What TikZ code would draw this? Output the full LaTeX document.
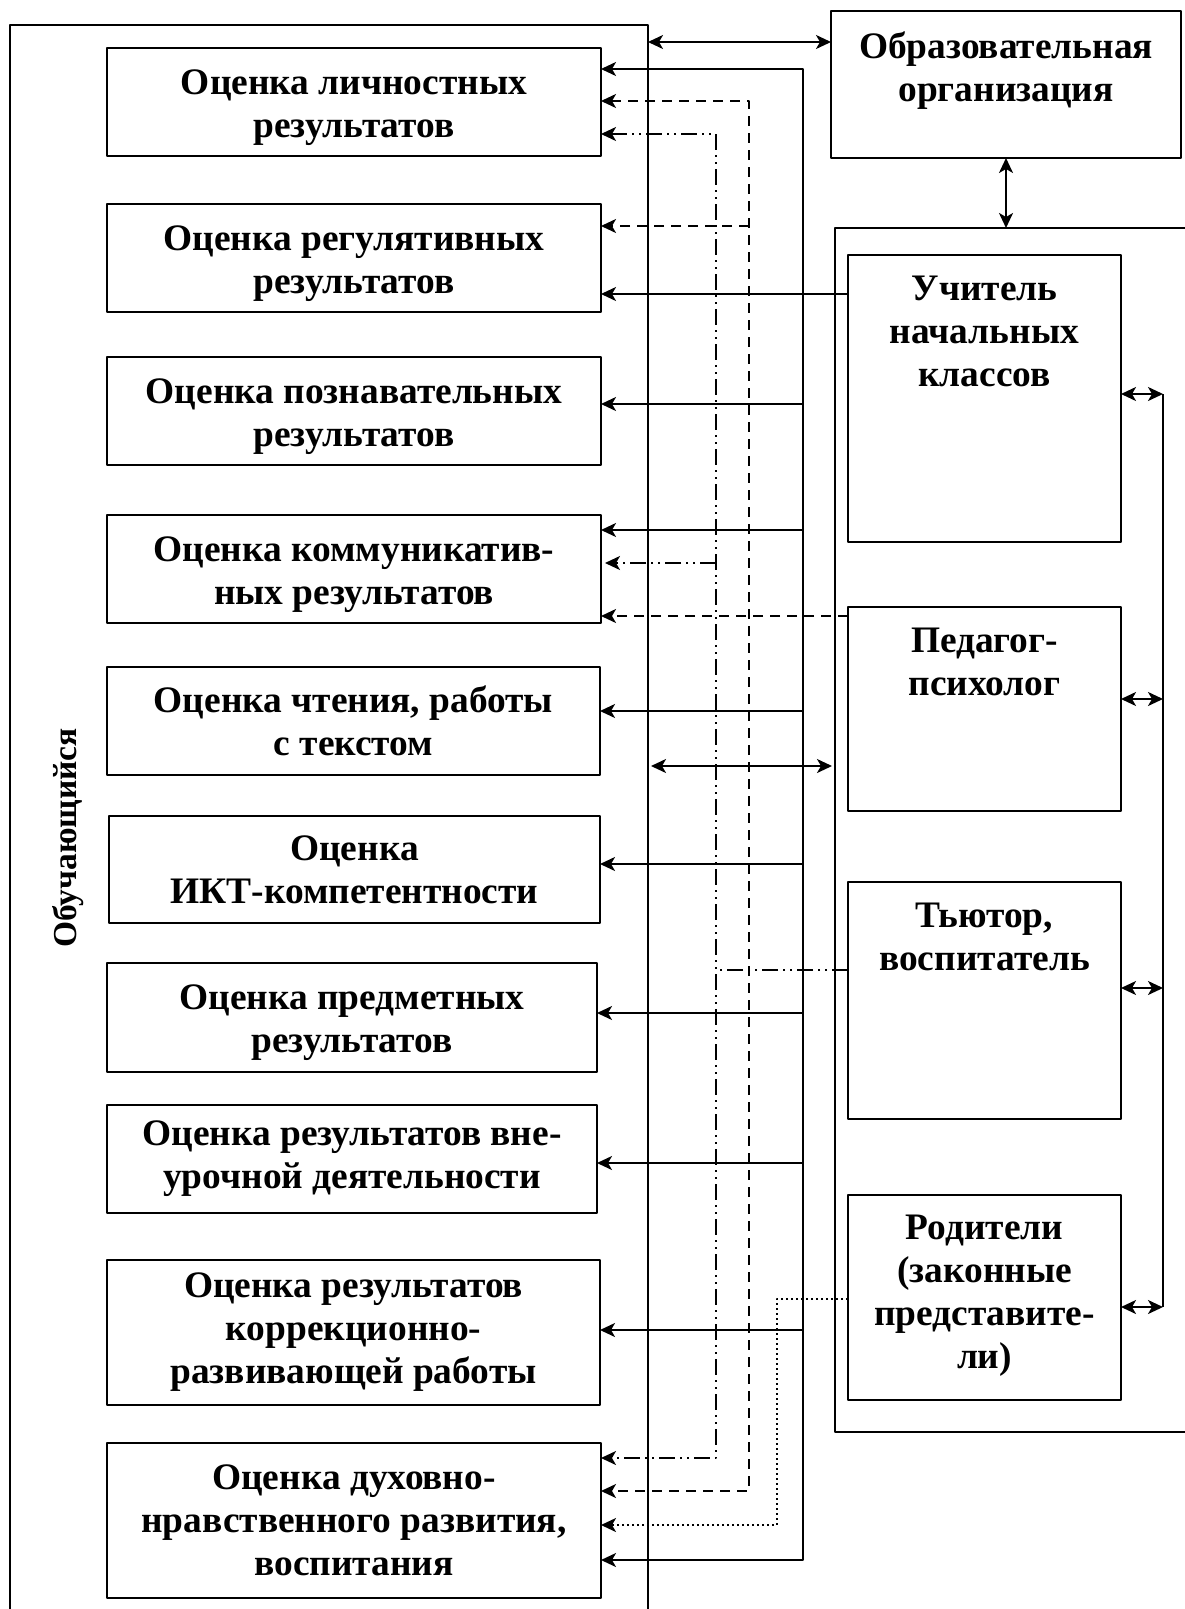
\documentclass[tikz,border=0pt]{standalone}
\usepackage{fontspec}
\setmainfont{Liberation Serif}
\usetikzlibrary{arrows.meta}
\tikzset{t/.style={font=\fontsize{37.4}{43}\selectfont\bfseries}}
\tikzset{box/.style={draw,line width=2pt,inner sep=0pt,outer sep=0pt,align=center,t}}
\tikzset{lbox/.style={box,minimum width=494,minimum height=108}}
\tikzset{two/.style={execute at begin node={\rule{0pt}{79pt}}}}
\tikzset{rbox/.style={box,minimum width=273}}
\tikzset{rt/.style={t,align=center,anchor=north,inner sep=0pt}}
\tikzset{ln/.style={line width=2pt}}
\tikzset{dashln/.style={ln,dash pattern=on 10pt off 7pt}}
\tikzset{ddln/.style={ln,dash pattern=on 16pt off 5pt on 2pt off 5pt on 2pt off 5pt}}
\tikzset{dotln/.style={ln,dash pattern=on 2pt off 3pt}}

\begin{document}
\begin{tikzpicture}[x=1pt,y=-1pt,line join=round,>={Stealth[length=15pt,width=14pt,inset=4pt]}]
  \useasboundingbox (0,0) rectangle (1185,1609);
  % containers
  \node[box,minimum width=638,minimum height=1620,anchor=north west] (learner) at (10,25) {};
  \node[box,minimum width=400,minimum height=1204,anchor=north west] (team) at (835,228) {};
  \node[font=\fontsize{33.5}{40}\selectfont\bfseries,rotate=90] (lname) at (68,838) {Обучающийся};
  % left boxes
  \node[lbox,two] (b1) at (354,102) {Оценка личностных\\результатов};
  \node[lbox,two] (b2) at (354,258) {Оценка регулятивных\\результатов};
  \node[lbox,two] (b3) at (354,411) {Оценка познавательных\\результатов};
  \node[lbox,two] (b4) at (354,569) {Оценка коммуникатив-\\ных результатов};
  \node[lbox,minimum width=493] (b5) at (353.5,721) {Оценка чтения, работы\\с текстом};
  \node[lbox,minimum width=491,minimum height=107] (b6) at (354.5,869.5) {Оценка\\ИКТ-компетентности};
  \node[lbox,two,minimum width=490,minimum height=109] (b7) at (352,1017.5) {Оценка предметных\\результатов};
  \node[lbox,minimum width=490] (b8) at (352,1159) {Оценка результатов вне-\\урочной деятельности};
  \node[lbox,minimum width=493,minimum height=145] (b9) at (353.5,1332.5) {Оценка результатов\\коррекционно-\\развивающей работы};
  \node[lbox,minimum height=155] (b10) at (354,1520.5) {Оценка духовно-\\нравственного развития,\\воспитания};
  % right boxes
  \node[box,minimum width=350,minimum height=147] (org) at (1006,84.5) {};
  \node[rt] (orgT) at ([yshift=-21pt]org.north) {Образовательная\\организация};
  \node[rbox,minimum height=287] (uch) at (984.5,398.5) {};
  \node[rt] (uchT) at ([yshift=-21pt]uch.north) {Учитель\\начальных\\классов};
  \node[rbox,minimum height=204] (ped) at (984.5,709) {};
  \node[rt] (pedT) at ([yshift=-21pt]ped.north) {Педагог-\\психолог};
  \node[rbox,minimum height=237] (tut) at (984.5,1000.5) {};
  \node[rt] (tutT) at ([yshift=-21pt]tut.north) {Тьютор,\\воспитатель};
  \node[rbox,minimum height=205] (rod) at (984.5,1297.5) {};
  \node[rt] (rodT) at ([yshift=-20pt]rod.north) {Родители\\(законные\\представите-\\ли)};
  % buses
  \coordinate (sbus) at (803,0);
  \coordinate (dbus) at (749,0);
  \coordinate (cbus) at (716,0);
  \coordinate (pbus) at (777,0);
  \coordinate (rbus) at (1163,0);
  \draw[ln,<->] (learner.east|-0,42) -- (org.west|-0,42);
  \draw[ln,<->] (org.south) -- (org.south|-team.north);
  \draw[ln,<->,shorten <=3pt,shorten >=3pt] (learner.east|-0,766) -- (team.west|-0,766);
  % solid
  \draw[ln,<->] (b1.east|-0,69) -- (sbus|-0,69) -- (sbus|-0,1560) -- (b10.east|-0,1560);
  \foreach \n/\y in {b3/404,b4/530,b5/711,b6/864,b7/1013,b8/1163,b9/1330}
    \draw[ln,->] (sbus|-0,\y) -- (\n.east|-0,\y);
  \draw[ln,->] (uch.west|-0,294) -- (b2.east|-0,294);
  % dashed
  \draw[dashln,<->] (b1.east|-0,101) -- (dbus|-0,101) -- (dbus|-0,1491) -- (b10.east|-0,1491);
  \draw[dashln,->] (dbus|-0,226) -- (b2.east|-0,226);
  \draw[dashln,->] (ped.west|-0,616) -- (b4.east|-0,616);
  % dash dot dot
  \draw[ddln,<->] (b1.east|-0,134) -- (cbus|-0,134) -- (cbus|-0,1458) -- (b10.east|-0,1458);
  \draw[ddln,->,shorten >=4pt] (cbus|-0,563) -- (b4.east|-0,563);
  \draw[ddln] (tut.west|-0,970) -- (cbus|-0,970);
  % dotted
  \draw[dotln,->] (rod.west|-0,1299) -| (pbus|-0,1525) -- (b10.east|-0,1525);
  % right side
  \draw[line width=1.6pt] (rbus|-0,394) -- (rbus|-0,1307);
  \foreach \n/\y in {uch/394,ped/699,tut/988,rod/1307}
    \draw[ln,<->] (\n.east|-0,\y) -- (rbus|-0,\y);
\end{tikzpicture}
\end{document}
